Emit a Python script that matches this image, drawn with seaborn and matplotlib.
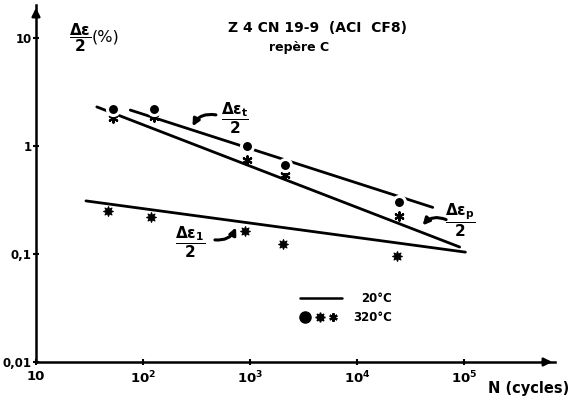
import numpy as np
import pandas as pd
import matplotlib
matplotlib.use("Agg")
import matplotlib.pyplot as plt
import seaborn as sns

# ---------------- data ----------------
# 320 °C measured points
N_pts = [52, 126, 930, 2100, 24500]
total_pts = [2.2, 2.2, 1.0, 0.67, 0.30]          # Δεt/2, large dots
plastic_pts = [1.82, 1.85, 0.74, 0.54, 0.225]    # Δεp/2, small stars
N_el = [47, 120, 890, 2050, 23500]
elastic_pts = [0.25, 0.22, 0.163, 0.124, 0.096]  # Δε1/2, medium stars

# 20 °C fitted lines (end points)
N_total_line = [76, 51000]
total_line = [2.15, 0.27]
N_plastic_line = [37, 91000]
plastic_line = [2.3, 0.116]
N_elastic_line = [29.3, 103000]
elastic_line = [0.31, 0.104]

x_ticks = [10, 100, 1000, 10000, 100000]
x_ticklabels = ["10", r"$\mathbf{10^2}$", r"$\mathbf{10^3}$", r"$\mathbf{10^4}$", r"$\mathbf{10^5}$"]
y_ticks = [0.01, 0.1, 1, 10]
y_ticklabels = ["0,01", "0,1", "1", "10"]

title1 = "Z 4 CN 19-9  (ACI  CF8)"
title2 = "repère C"

# ---------------- style ----------------
sns.set_style("ticks")
plt.rcParams["font.family"] = ["DejaVu Sans"]
plt.rcParams["font.weight"] = "bold"
plt.rcParams["text.color"] = "black"
plt.rcParams["axes.labelcolor"] = "black"
plt.rcParams["xtick.color"] = "black"
plt.rcParams["ytick.color"] = "black"
plt.rcParams["axes.edgecolor"] = "black"
plt.rcParams["mathtext.fontset"] = "custom"
plt.rcParams["mathtext.rm"] = "DejaVu Sans:bold"
plt.rcParams["mathtext.it"] = "DejaVu Sans:bold"
plt.rcParams["mathtext.bf"] = "DejaVu Sans:bold"
plt.rcParams["mathtext.sf"] = "DejaVu Sans:bold"

fig = plt.figure(figsize=(5.75, 4.04), dpi=100)
ax = fig.add_axes([36 / 575, 42 / 404, 519 / 575, 357 / 404])

lines_df = pd.DataFrame({
    "N": N_total_line + N_plastic_line + N_elastic_line,
    "val": total_line + plastic_line + elastic_line,
    "kind": ["t"] * 2 + ["p"] * 2 + ["e"] * 2,
})
sns.lineplot(data=lines_df, x="N", y="val", hue="kind",
             palette={"t": "black", "p": "black", "e": "black"},
             linewidth=2.0, legend=False, ax=ax, estimator=None, sort=False)

sns.scatterplot(x=N_pts, y=plastic_pts, marker=(6, 2, 0), s=36,
                color="black", linewidth=1.6, ax=ax, zorder=5)
sns.scatterplot(x=N_el, y=elastic_pts, marker=(8, 1, 0), s=50,
                color="black", edgecolor="black", linewidth=0.8, ax=ax, zorder=5)
sns.scatterplot(x=N_pts, y=total_pts, marker="o", s=75,
                color="black", edgecolor="white", linewidth=2.2, ax=ax, zorder=6)

ax.set_xscale("log")
ax.set_yscale("log")
ax.set_xlim(10, 10 ** 5.85)
ax.set_ylim(0.01, 10 ** 1.305)
ax.set_xticks(x_ticks)
ax.set_xticklabels(x_ticklabels)
ax.set_yticks(y_ticks)
ax.set_yticklabels(y_ticklabels)
ax.minorticks_off()
ax.tick_params(axis="both", which="major", direction="inout", length=5, width=1.5,
               labelsize=9.5, pad=3, colors="black")
ax.tick_params(axis="y", pad=0.5, labelsize=8.5)
ax.set_xlabel("")
ax.set_ylabel("")

for s in ["top", "right"]:
    ax.spines[s].set_visible(False)
for s in ["left", "bottom"]:
    ax.spines[s].set_linewidth(1.8)
    ax.spines[s].set_color("black")

# axis arrows
ax.annotate("", xy=(1.0, 0), xytext=(0.97, 0), xycoords="axes fraction",
            arrowprops=dict(arrowstyle="-|>", color="black", lw=1.8, mutation_scale=12),
            annotation_clip=False)
ax.annotate("", xy=(0, 1.0), xytext=(0, 0.96), xycoords="axes fraction",
            arrowprops=dict(arrowstyle="-|>", color="black", lw=1.8, mutation_scale=12),
            annotation_clip=False)

# titles and labels
ax.text(0.543, 0.936, title1, transform=ax.transAxes, ha="center", va="center",
        fontsize=10, fontweight="bold")
ax.text(0.507, 0.880, title2, transform=ax.transAxes, ha="center", va="center",
        fontsize=9, fontweight="bold")
ax.text(0.085, 0.908, r"$\dfrac{\Delta\varepsilon}{2}$", transform=ax.transAxes,
        ha="center", va="center", fontsize=11)
ax.text(0.133, 0.910, "(%)", transform=ax.transAxes, ha="center", va="center",
        fontsize=11.5, fontweight="normal")
ax.text(1.027, -0.073, "N (cycles)", transform=ax.transAxes, ha="right", va="center",
        fontsize=10.5, fontweight="bold")

# curve annotations
arrow_kw = dict(arrowstyle="-|>", color="black", lw=2.2, mutation_scale=10,
                shrinkA=0, shrinkB=0)
ax.text(724, 1.82, r"$\dfrac{\Delta\varepsilon_t}{2}$", ha="center", va="center", fontsize=11)
ax.annotate("", xy=(290, 1.52), xytext=(480, 1.94),
            arrowprops=dict(connectionstyle="arc3,rad=0.35", **arrow_kw))
ax.text(93000, 0.206, r"$\dfrac{\Delta\varepsilon_p}{2}$", ha="center", va="center", fontsize=11)
ax.annotate("", xy=(41000, 0.184), xytext=(68000, 0.208),
            arrowprops=dict(connectionstyle="arc3,rad=0.35", **arrow_kw))
ax.text(276, 0.129, r"$\dfrac{\Delta\varepsilon_1}{2}$", ha="center", va="center", fontsize=11)
ax.annotate("", xy=(740, 0.176), xytext=(470, 0.135),
            arrowprops=dict(connectionstyle="arc3,rad=0.35", **arrow_kw))

# legend (drawn in axes fraction)
ax.plot([0.509, 0.590], [0.179, 0.179], color="black", lw=1.8, transform=ax.transAxes)
ax.text(0.626, 0.179, "20°C", transform=ax.transAxes, ha="left", va="center",
        fontsize=8.5, fontweight="bold")
ax.plot([0.518], [0.125], marker="o", ms=8, color="black", transform=ax.transAxes,
        clip_on=False)
ax.plot([0.547], [0.125], marker=(8, 1, 0), ms=7, color="black", transform=ax.transAxes)
ax.plot([0.572], [0.125], marker=(6, 2, 0), ms=6, mew=1.6, color="black",
        transform=ax.transAxes)
ax.text(0.612, 0.125, "320°C", transform=ax.transAxes, ha="left", va="center",
        fontsize=8.5, fontweight="bold")

fig.savefig("out.png", dpi=100)
